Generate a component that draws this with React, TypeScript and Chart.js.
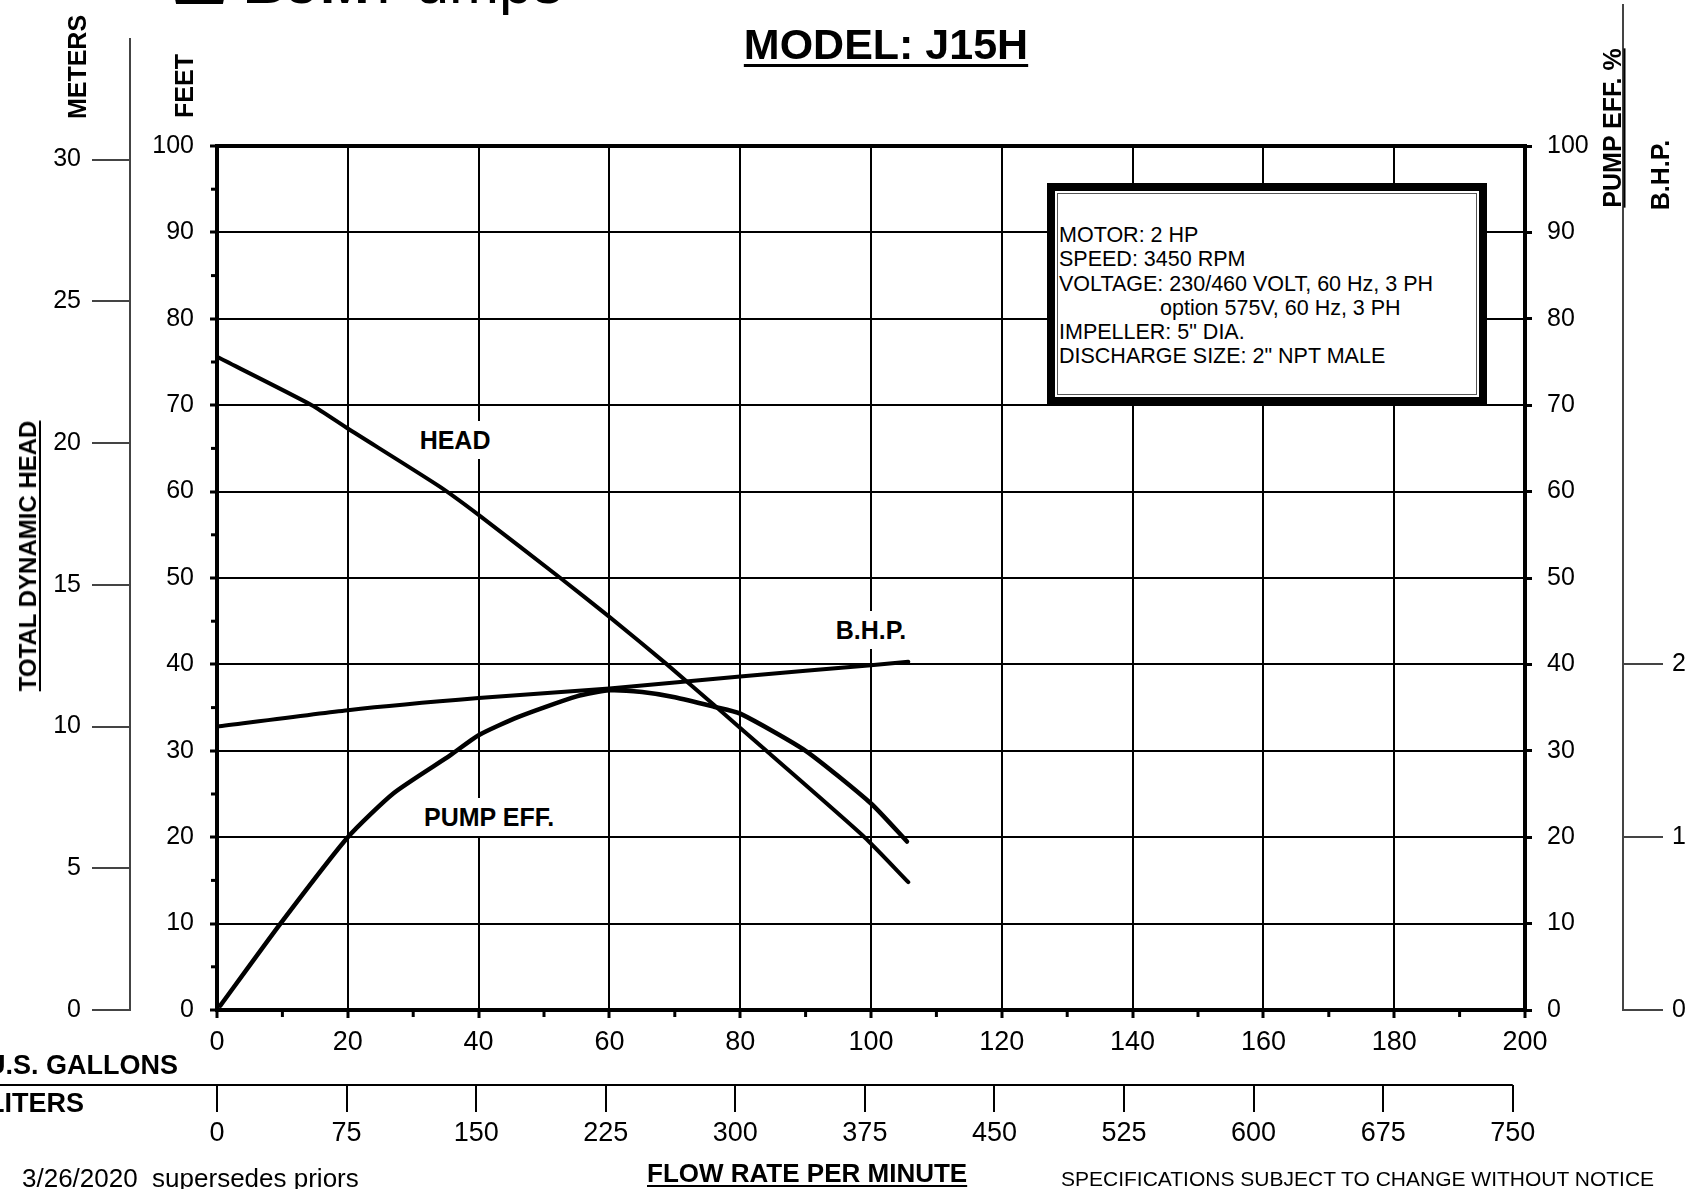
import React, { useEffect, useRef } from 'react';
import { Chart, registerables } from 'chart.js';

Chart.register(...registerables);

const FONT = '"Liberation Sans", Arial, Helvetica, sans-serif';

// ---- curve data (flow in US GPM) ----
const headFlow = [0, 14.5, 20, 34, 40, 52.5, 60, 68.8, 76, 84, 99, 105.7];
const headFeet = [75.6, 70, 67.3, 60.6, 57.3, 50, 45.5, 40, 35.3, 30, 20, 14.8];

const bhpFlow = [0, 20, 40, 60, 80, 100, 105.7];
const bhpHp = [1.64, 1.735, 1.805, 1.86, 1.93, 1.995, 2.015];

const effFlow = [0.5, 9.7, 20, 27, 35.7, 40, 46, 55, 60, 65, 70, 76, 80, 90, 100, 105.5];
const effPct = [0.5, 10, 20, 25.1, 29.5, 31.8, 33.9, 36.3, 37, 36.8, 36.2, 35.1, 34.3, 30, 23.9, 19.5];

// ---- axes ----
const gallonTicks = [0, 20, 40, 60, 80, 100, 120, 140, 160, 180, 200];
const gallonMinor = [10, 30, 50, 70, 90, 110, 130, 150, 170, 190];
const literTicks = [0, 75, 150, 225, 300, 375, 450, 525, 600, 675, 750];
const feetTicks = [0, 10, 20, 30, 40, 50, 60, 70, 80, 90, 100];
const feetMinor = [5, 15, 25, 35, 45, 55, 65, 75, 85, 95];
const meterTicks = [0, 5, 10, 15, 20, 25, 30];
const effTicks = [0, 10, 20, 30, 40, 50, 60, 70, 80, 90, 100];
const bhpTicks = [0, 1, 2];

const GAL_MAX = 200;
const LITERS_PER_GAL = 3.78541;
const FT_PER_M = 3.28084;
const BHP_MAX = 5;

const infoLines = [
  'MOTOR: 2 HP',
  'SPEED: 3450 RPM',
  'VOLTAGE: 230/460 VOLT, 60 Hz, 3 PH',
  'option 575V, 60 Hz, 3 PH',
  'IMPELLER: 5" DIA.',
  'DISCHARGE SIZE: 2" NPT MALE',
];

const curveLabels = [
  { text: 'HEAD', x: 36.4, y: 66, axis: 'y' },
  { text: 'B.H.P.', x: 100, y: 44, axis: 'y' },
  { text: 'PUMP EFF.', x: 41.6, y: 22.3, axis: 'eff' },
];

const pts = (xs: number[], ys: number[]) => xs.map((x, i) => ({ x, y: ys[i] }));
const setTicks = (vals: number[]) => (scale: any) => {
  scale.ticks = vals.map((v) => ({ value: v }));
};

const decorPlugin = {
  id: 'decor',
  beforeDatasetsDraw(chart: any) {
    const { ctx, chartArea: a, scales } = chart;
    const line = (x1: number, y1: number, x2: number, y2: number) => {
      ctx.beginPath();
      ctx.moveTo(x1, y1);
      ctx.lineTo(x2, y2);
      ctx.stroke();
    };
    ctx.save();
    ctx.strokeStyle = '#000';
    ctx.lineWidth = 3;
    feetMinor.forEach((v) => {
      const y = scales.y.getPixelForValue(v);
      line(a.left - 6, y, a.left, y);
    });
    gallonMinor.forEach((v) => {
      const x = scales.x.getPixelForValue(v);
      line(x, a.bottom, x, a.bottom + 7);
    });
    ctx.lineWidth = 4;
    ctx.strokeRect(a.left, a.top, a.right - a.left, a.bottom - a.top);
    // liters axis line
    ctx.lineWidth = 2;
    const lx = scales.liters.getPixelForValue(750);
    line(0, scales.liters.top, lx, scales.liters.top);
    // meters and bhp axis lines (extend above chart area)
    ctx.strokeStyle = '#444';
    line(scales.meters.right, 38, scales.meters.right, a.bottom + 1);
    line(scales.bhp.left, 4, scales.bhp.left, a.bottom + 1);
    ctx.restore();
  },
};

const tickFont = (size: number) => ({ family: FONT, size });

export default function App() {
  const canvasRef = useRef<HTMLCanvasElement>(null);
  const labelRefs = useRef<(HTMLDivElement | null)[]>([]);

  useEffect(() => {
    const lineDs = (label: string, data: any[], yAxisID: string, width: number) => ({
      label,
      data,
      yAxisID,
      xAxisID: 'x',
      borderColor: '#000',
      backgroundColor: '#000',
      borderWidth: width,
      pointRadius: 0,
      tension: 0.2,
      borderCapStyle: 'round',
      borderJoinStyle: 'round',
      fill: false,
    });
    const chart = new Chart(canvasRef.current as HTMLCanvasElement, {
      type: 'line',
      data: {
        datasets: [
          lineDs('HEAD', pts(headFlow, headFeet), 'y', 4),
          lineDs('B.H.P.', pts(bhpFlow, bhpHp), 'bhp', 4),
          lineDs('PUMP EFF.', pts(effFlow, effPct), 'eff', 4.5),
        ] as any,
      },
      options: {
        responsive: false,
        animation: false,
        devicePixelRatio: 1,
        layout: { padding: { top: 146, bottom: 44, left: 0, right: 0 } },
        plugins: { legend: { display: false }, tooltip: { enabled: false }, title: { display: false } },
        scales: {
          x: {
            type: 'linear',
            position: 'bottom',
            min: 0,
            max: GAL_MAX,
            afterBuildTicks: setTicks(gallonTicks),
            afterFit: (s: any) => { s.height = 75; },
            ticks: { color: '#000', font: tickFont(27), padding: 8, maxRotation: 0, autoSkip: false },
            grid: { color: '#000', lineWidth: 2, tickLength: 8, tickWidth: 3, tickColor: '#000' },
            border: { display: false },
          },
          liters: {
            type: 'linear',
            position: 'bottom',
            weight: 1,
            min: 0,
            max: GAL_MAX * LITERS_PER_GAL,
            afterBuildTicks: setTicks(literTicks),
            afterFit: (s: any) => { s.height = 60; },
            ticks: { color: '#000', font: tickFont(27), padding: 5, maxRotation: 0, autoSkip: false },
            grid: { drawOnChartArea: false, color: '#000', lineWidth: 2, tickLength: 27 },
            border: { display: false },
          },
          y: {
            type: 'linear',
            position: 'left',
            min: 0,
            max: 100,
            afterBuildTicks: setTicks(feetTicks),
            afterFit: (s: any) => { s.width = 87; },
            ticks: { color: '#000', font: tickFont(25), padding: 16, autoSkip: false },
            grid: { color: '#000', lineWidth: 2, tickLength: 7, tickWidth: 3, tickColor: '#000' },
            border: { display: false },
          },
          meters: {
            type: 'linear',
            position: 'left',
            weight: 1,
            min: 0,
            max: 100 / FT_PER_M,
            afterBuildTicks: setTicks(meterTicks),
            afterFit: (s: any) => { s.width = 130; },
            ticks: { color: '#000', font: tickFont(25), padding: 11, autoSkip: false },
            grid: { drawOnChartArea: false, color: '#444', lineWidth: 2, tickLength: 38 },
            border: { display: false },
          },
          eff: {
            type: 'linear',
            position: 'right',
            min: 0,
            max: 100,
            afterBuildTicks: setTicks(effTicks),
            afterFit: (s: any) => { s.width = 98; },
            ticks: { color: '#000', font: tickFont(25), padding: 15, autoSkip: false },
            grid: { drawOnChartArea: false, color: '#000', lineWidth: 3, tickLength: 7 },
            border: { display: false },
          },
          bhp: {
            type: 'linear',
            position: 'right',
            weight: 1,
            min: 0,
            max: BHP_MAX,
            afterBuildTicks: setTicks(bhpTicks),
            afterFit: (s: any) => { s.width = 69; },
            ticks: { color: '#000', font: tickFont(25), padding: 9, autoSkip: false },
            grid: { drawOnChartArea: false, color: '#444', lineWidth: 2, tickLength: 40 },
            border: { display: false },
          },
        },
      } as any,
      plugins: [decorPlugin],
    });

    curveLabels.forEach((l, i) => {
      const el = labelRefs.current[i];
      if (!el) return;
      el.style.left = chart.scales.x.getPixelForValue(l.x) + 'px';
      el.style.top = chart.scales[l.axis].getPixelForValue(l.y) + 'px';
    });

    return () => chart.destroy();
  }, []);

  const abs = (s: React.CSSProperties): React.CSSProperties => ({ position: 'absolute', whiteSpace: 'nowrap', ...s });
  const vert = (cx: number, cy: number, size: number, extra: React.CSSProperties = {}): React.CSSProperties =>
    abs({
      left: cx,
      top: cy,
      transform: 'translate(-50%, -50%) rotate(-90deg)',
      fontWeight: 700,
      fontSize: size,
      lineHeight: `${size}px`,
      ...extra,
    });

  return (
    <div
      style={{
        position: 'fixed',
        left: 0,
        top: 0,
        width: 1692,
        height: 1189,
        overflow: 'hidden',
        background: '#fff',
        fontFamily: FONT,
        color: '#000',
      }}
    >
      <canvas ref={canvasRef} width={1692} height={1189} style={{ position: 'absolute', left: 0, top: 0 }} />

      {/* logo, cut off at top */}
      <div
        style={abs({
          left: 167,
          top: -40,
          width: 65,
          height: 44,
          background: '#000',
          clipPath: 'polygon(0 0, 100% 0, 86% 100%, 14% 100%)',
        })}
      />
      <div style={abs({ left: 243, top: -47, fontSize: 60, lineHeight: '60px' })}>
        <span style={{ fontWeight: 900 }}>BJM</span>
        <span style={{ marginLeft: 6 }}>Pumps</span>
      </div>

      {/* title */}
      <div
        style={abs({
          left: 886,
          top: 23,
          transform: 'translateX(-50%)',
          fontSize: 43,
          lineHeight: '43px',
          fontWeight: 700,
          textDecoration: 'underline',
          textDecorationThickness: '3px',
          textUnderlineOffset: '5px',
        })}
      >
        MODEL: J15H
      </div>

      {/* axis titles */}
      <div style={vert(77, 67, 25)}>METERS</div>
      <div style={vert(184, 86, 25)}>FEET</div>
      <div
        style={vert(28, 556, 24, {
          textDecoration: 'underline',
          textDecorationThickness: '2px',
          textUnderlineOffset: '3px',
        })}
      >
        TOTAL DYNAMIC HEAD
      </div>
      <div
        style={vert(1612, 128, 25, {
          textDecoration: 'underline',
          textDecorationThickness: '2px',
          textUnderlineOffset: '3px',
        })}
      >
        PUMP EFF. %
      </div>
      <div style={vert(1660, 175, 25)}>B.H.P.</div>

      {/* info box */}
      <div
        style={abs({
          left: 1047,
          top: 183,
          width: 440,
          height: 222,
          boxSizing: 'border-box',
          border: '8px solid #000',
          background: '#fff',
        })}
      >
        <div
          style={abs({
            left: 2,
            top: 2,
            right: 2,
            bottom: 2,
            border: '1px solid #555',
            paddingTop: 29,
            paddingLeft: 1,
            fontSize: 21.5,
            lineHeight: '24.3px',
          })}
        >
          {infoLines.map((t, i) => (
            <div key={i} style={{ paddingLeft: t.startsWith('option') ? 101 : 0 }}>
              {t}
            </div>
          ))}
        </div>
      </div>

      {/* curve labels (positioned from the chart scales) */}
      {curveLabels.map((l, i) => (
        <div
          key={l.text}
          ref={(el) => {
            labelRefs.current[i] = el;
          }}
          style={abs({
            left: 0,
            top: 0,
            transform: 'translate(-50%, -50%)',
            background: '#fff',
            fontWeight: 700,
            fontSize: 25,
            lineHeight: '38px',
            padding: '0 3px',
          })}
        >
          {l.text}
        </div>
      ))}

      {/* bottom axis names */}
      <div style={abs({ right: 1692 - 178, top: 1052, fontSize: 27, lineHeight: '27px', fontWeight: 700 })}>
        U.S. GALLONS
      </div>
      <div style={abs({ left: -12, top: 1090, fontSize: 27, lineHeight: '27px', fontWeight: 700 })}>LITERS</div>

      {/* footer */}
      <div style={abs({ left: 22, top: 1165, fontSize: 26, lineHeight: '26px' })}>3/26/2020&nbsp; supersedes priors</div>
      <div
        style={abs({
          left: 647,
          top: 1160,
          fontSize: 26,
          lineHeight: '26px',
          fontWeight: 700,
          textDecoration: 'underline',
          textDecorationThickness: '2px',
          textUnderlineOffset: '3px',
        })}
      >
        FLOW RATE PER MINUTE
      </div>
      <div style={abs({ left: 1061, top: 1168, fontSize: 21, lineHeight: '21px' })}>
        SPECIFICATIONS SUBJECT TO CHANGE WITHOUT NOTICE
      </div>
    </div>
  );
}
